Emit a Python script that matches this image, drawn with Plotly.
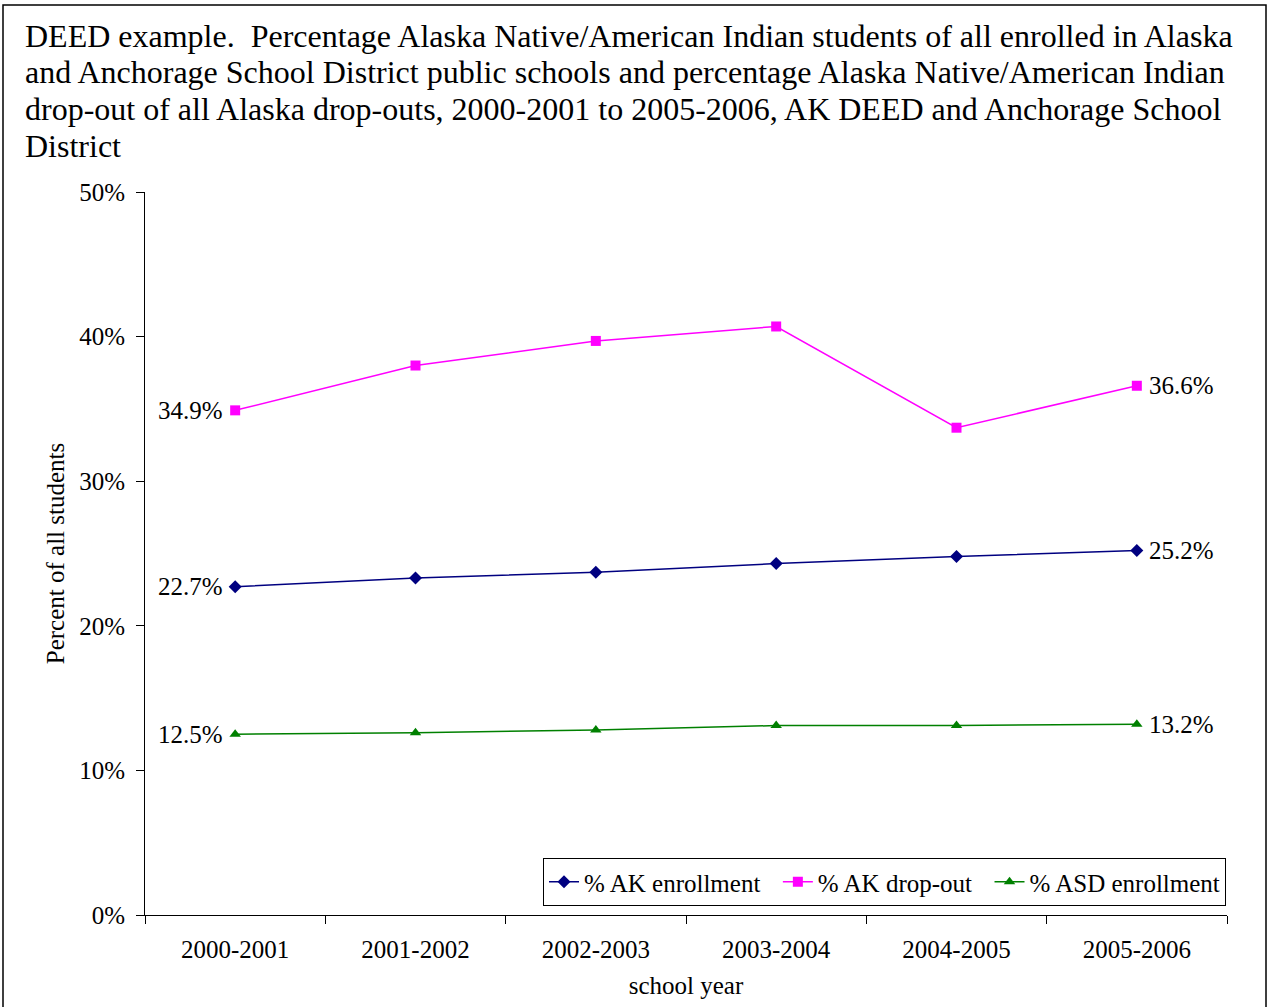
import plotly.graph_objects as go

years = ["2000-2001", "2001-2002", "2002-2003", "2003-2004", "2004-2005", "2005-2006"]
ak_enrollment = [22.7, 23.3, 23.7, 24.3, 24.8, 25.2]
ak_dropout = [34.9, 38.0, 39.7, 40.7, 33.7, 36.6]
asd_enrollment = [12.5, 12.6, 12.8, 13.1, 13.1, 13.2]
series_names = ["% AK enrollment", "% AK drop-out", "% ASD enrollment"]

title_lines = [
    "DEED example.  Percentage Alaska Native/American Indian students of all enrolled in Alaska",
    "and Anchorage School District public schools and percentage Alaska Native/American Indian",
    "drop-out of all Alaska drop-outs, 2000-2001 to 2005-2006, AK DEED and Anchorage School",
    "District",
]

FONT = "Liberation Serif, Times New Roman, serif"
FS = 25
W, H = 1270, 1007
L, R, T, B = 145, 43, 192, 92
pw, ph = W - L - R, H - T - B


def px_x(x):
    return (x - L) / pw


def px_y(y):
    return (H - B - y) / ph


fig = go.Figure()
series = [
    (series_names[0], ak_enrollment, "#000080", "diamond", 10, "\u00a0\u00a0"),
    (series_names[1], ak_dropout, "#FF00FF", "square", 10, "\u00a0\u00a0"),
    (series_names[2], asd_enrollment, "#008000", "triangle-up", 10, ""),
]
annotations = []
for name, vals, col, sym, sz, pad in series:
    fig.add_trace(go.Scatter(
        x=years, y=vals, name=name + pad, mode="lines+markers",
        line=dict(color=col, width=1.5),
        marker=dict(color=col, symbol=sym, size=sz),
        cliponaxis=False,
    ))
    annotations.append(dict(
        x=years[0], y=vals[0], xref="x", yref="y", text="%.1f%%" % vals[0],
        xanchor="right", yanchor="middle", xshift=-10, showarrow=False,
        font=dict(family=FONT, size=FS, color="black"),
    ))
    annotations.append(dict(
        x=years[-1], y=vals[-1], xref="x", yref="y", text="%.1f%%" % vals[-1],
        xanchor="left", yanchor="middle", xshift=10, showarrow=False,
        font=dict(family=FONT, size=FS, color="black"),
    ))

for i, line in enumerate(title_lines):
    annotations.append(dict(
        text=line, xref="paper", yref="paper",
        x=px_x(23), y=px_y(36 + 36.5 * i), xanchor="left", yanchor="middle",
        showarrow=False, font=dict(family=FONT, size=32, color="black"),
    ))

fig.update_layout(
    width=W, height=H,
    margin=dict(l=L, r=R, t=T, b=B),
    paper_bgcolor="white", plot_bgcolor="white",
    font=dict(family=FONT, size=FS, color="black"),
    showlegend=True,
    legend=dict(
        orientation="h", x=px_x(1226), xanchor="right", y=px_y(906), yanchor="bottom",
        bordercolor="black", borderwidth=1, bgcolor="white",
        font=dict(family=FONT, size=FS, color="black"),
        itemwidth=30, tracegroupgap=0, itemclick=False,
    ),
    annotations=annotations,
    shapes=[dict(
        type="rect", xref="paper", yref="paper",
        x0=px_x(3), x1=px_x(1266), y0=px_y(1012), y1=px_y(5),
        line=dict(color="black", width=1.5), fillcolor="rgba(0,0,0,0)", layer="below",
    )],
)

fig.update_xaxes(
    type="category", range=[-0.5, 5.5], showgrid=False, showline=True, linecolor="black", linewidth=1,
    ticks="outside", ticklen=8, tickcolor="black", tickson="boundaries",
    ticklabelstandoff=12,
    tickfont=dict(family=FONT, size=FS, color="black"),
    title=dict(text="school year", font=dict(family=FONT, size=FS, color="black"), standoff=14),
    zeroline=False,
)
fig.update_yaxes(
    range=[0, 50], dtick=10, ticksuffix="%", showgrid=False, showline=True,
    linecolor="black", linewidth=1, ticks="outside", ticklen=8, tickcolor="black",
    ticklabelstandoff=6,
    tickfont=dict(family=FONT, size=FS, color="black"),
    title=dict(text="Percent of all students", font=dict(family=FONT, size=FS, color="black"), standoff=7),
    zeroline=False,
)

fig.write_html("out.html")
